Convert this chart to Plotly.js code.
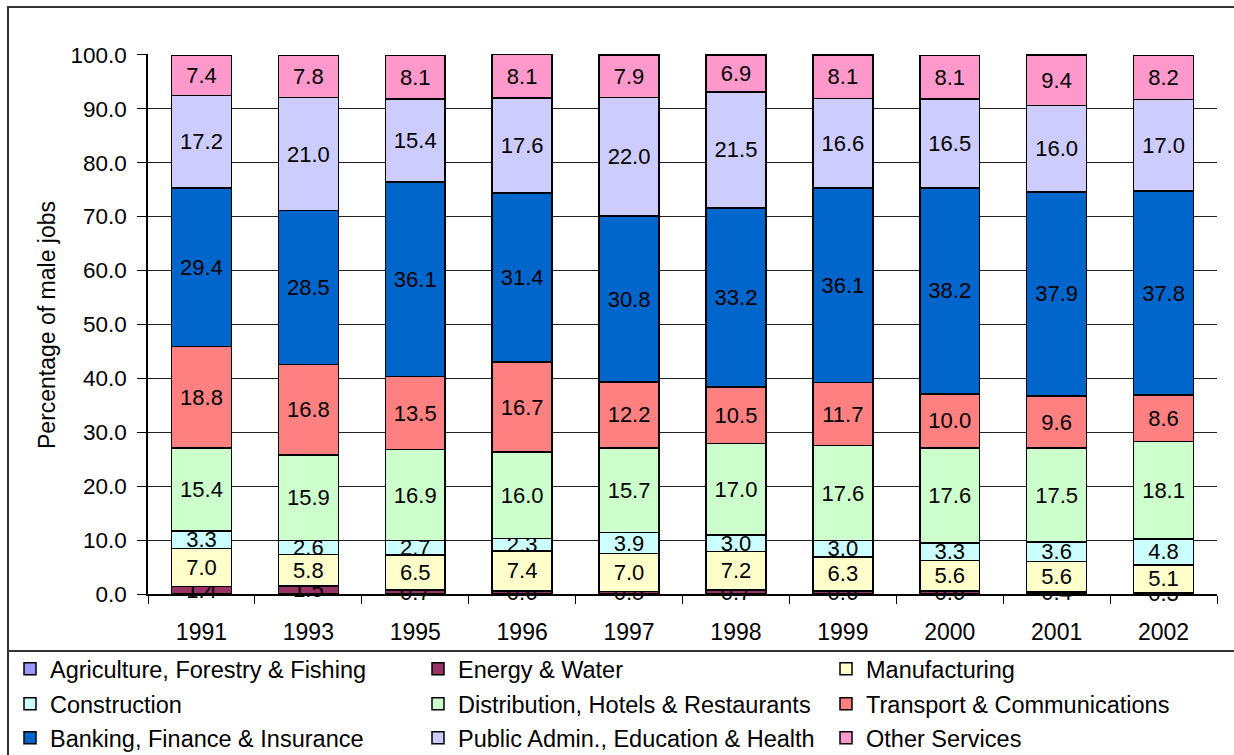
<!DOCTYPE html>
<html>
<head>
<meta charset="utf-8">
<script src="https://cdn.plot.ly/plotly-3.0.1.min.js"></script>
<style>
html,body{margin:0;padding:0;background:#fff;}
#chart{width:1234px;height:755px;}
</style>
</head>
<body>
<div id="chart"></div>
<script>
var years = ['1991','1993','1995','1996','1997','1998','1999','2000','2001','2002'];

var agriculture   = [0, 0, 0, 0, 0, 0, 0, 0, 0, 0];
var energy        = [1.4, 1.5, 0.7, 0.6, 0.5, 0.7, 0.6, 0.6, 0.4, 0.3];
var manufacturing = [7.0, 5.8, 6.5, 7.4, 7.0, 7.2, 6.3, 5.6, 5.6, 5.1];
var construction  = [3.3, 2.6, 2.7, 2.3, 3.9, 3.0, 3.0, 3.3, 3.6, 4.8];
var distribution  = [15.4, 15.9, 16.9, 16.0, 15.7, 17.0, 17.6, 17.6, 17.5, 18.1];
var transport     = [18.8, 16.8, 13.5, 16.7, 12.2, 10.5, 11.7, 10.0, 9.6, 8.6];
var banking       = [29.4, 28.5, 36.1, 31.4, 30.8, 33.2, 36.1, 38.2, 37.9, 37.8];
var publicAdmin   = [17.2, 21.0, 15.4, 17.6, 22.0, 21.5, 16.6, 16.5, 16.0, 17.0];
var otherServices = [7.4, 7.8, 8.1, 8.1, 7.9, 6.9, 8.1, 8.1, 9.4, 8.2];

var seriesNames = [
  'Agriculture, Forestry & Fishing', 'Energy & Water', 'Manufacturing',
  'Construction', 'Distribution, Hotels & Restaurants', 'Transport & Communications',
  'Banking, Finance & Insurance', 'Public Admin., Education & Health', 'Other Services'
];
var seriesValues = [agriculture, energy, manufacturing, construction, distribution,
                    transport, banking, publicAdmin, otherServices];
var seriesColors = ['#9999FF', '#993366', '#FFFFCC', '#CCFFFF', '#CCFFCC',
                    '#FF8080', '#0066CC', '#CCCCFF', '#FF99CC'];
var seriesLabelled = [false, true, true, true, true, true, true, true, true];

var yTicks = [0,10,20,30,40,50,60,70,80,90,100];

var FONT = 'Liberation Sans, Arial, sans-serif';
var W = 1234, H = 755;
var L = 148, R = 1217, T = 54, B = 594;
function px(x){ return (x - L) / (R - L); }
function py(y){ return (B - y) / (B - T); }

// legend grid: 3 columns x 3 rows (pixel positions of each entry)
var legendColX = [10, 418, 826];
var legendRowY = [669, 704, 738];

var traces = seriesNames.map(function(name, i){
  var vals = seriesValues[i];
  return {
    type:'bar',
    name:name,
    x:years,
    y:vals,
    legend:(i === 0 ? 'legend' : 'legend' + (i + 1)),
    text:vals.map(function(v){ return seriesLabelled[i] ? v.toFixed(1) : ''; }),
    textposition:'inside',
    insidetextanchor:'middle',
    textangle:0,
    constraintext:'none',
    cliponaxis:false,
    insidetextfont:{family:FONT, size:22, color:'#000'},
    outsidetextfont:{family:FONT, size:22, color:'#000'},
    marker:{color:seriesColors[i], line:{color:'#000', width:1.5}},
    hoverinfo:'name+y'
  };
});

var layout = {
  width:W, height:H,
  margin:{l:L, r:W-R, t:T, b:H-B, pad:0, autoexpand:false},
  paper_bgcolor:'#fff',
  plot_bgcolor:'#fff',
  barmode:'stack',
  bargap:0.44,
  showlegend:true,
  font:{family:FONT, color:'#000'},
  xaxis:{
    type:'category',
    showline:true, linecolor:'#000', linewidth:1.5,
    ticks:'outside', tickson:'boundaries', ticklen:8, tickcolor:'#000', tickwidth:1,
    tickfont:{family:FONT, size:23, color:'#000'},
    showgrid:false, zeroline:false,
    ticklabelstandoff:17,
    automargin:false
  },
  yaxis:{
    range:[0,100.15],
    tickvals:yTicks,
    ticktext:yTicks.map(function(v){return v.toFixed(1);}),
    showline:true, linecolor:'#000', linewidth:1.5,
    ticks:'outside', ticklen:9, tickcolor:'#000', tickwidth:1,
    tickfont:{family:FONT, size:22.5, color:'#000'},
    showgrid:true, gridcolor:'#222', gridwidth:1,
    zeroline:false,
    ticklabelstandoff:6,
    automargin:false
  },
  annotations:[{
    xref:'paper', yref:'paper',
    x:px(47), y:py(325), xanchor:'center', yanchor:'middle',
    text:'Percentage of male jobs', textangle:-90, showarrow:false,
    font:{family:FONT, size:23, color:'#000'}
  }],
  shapes:[
    {type:'rect', xref:'paper', yref:'paper', x0:px(8), x1:px(1260), y0:py(790), y1:py(7),
     line:{color:'#333', width:2}, fillcolor:'rgba(0,0,0,0)', layer:'below'},
    {type:'line', xref:'paper', yref:'paper', x0:px(8), x1:px(1260), y0:py(651), y1:py(651),
     line:{color:'#333', width:2}}
  ]
};

seriesNames.forEach(function(name, i){
  var key = (i === 0 ? 'legend' : 'legend' + (i + 1));
  layout[key] = {
    orientation:'v',
    xref:'container', yref:'container',
    x:legendColX[i % 3] / W, xanchor:'left',
    y:1 - legendRowY[Math.floor(i / 3)] / H, yanchor:'middle',
    font:{family:FONT, size:23.5, color:'#000'},
    bgcolor:'rgba(0,0,0,0)',
    borderwidth:0
  };
});

Plotly.newPlot('chart', traces, layout, {displayModeBar:false, responsive:false});
</script>
</body>
</html>
